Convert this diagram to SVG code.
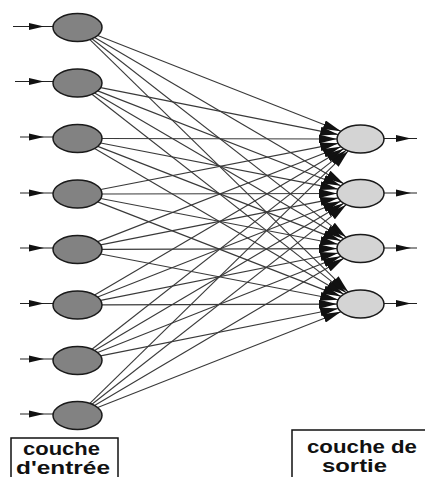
<svg xmlns="http://www.w3.org/2000/svg" width="425" height="477" viewBox="0 0 425 477">
<style>
.c line{stroke:#3a3a3a;stroke-width:1.15;fill:none}
.c .w{marker-end:url(#ah)}
.in ellipse{fill:#828282;stroke:#1a1a1a;stroke-width:1.5}
.out ellipse{fill:#d4d4d4;stroke:#1a1a1a;stroke-width:1.5}
.io line{stroke:#222;stroke-width:1.2}
.io polygon{fill:#111}
.lbl rect{fill:none;stroke:#111;stroke-width:1.5}
.lbl text{font-family:"Liberation Sans",Arial,sans-serif;font-weight:bold;font-size:19px;fill:#111}
</style>
<defs>
<marker id="ah" markerUnits="userSpaceOnUse" markerWidth="18" markerHeight="9" refX="18" refY="4.5" orient="auto">
<path d="M0,0 L18,4.5 L0,9 z" fill="#111"/>
</marker>
</defs>
<rect width="425" height="477" fill="#fff"/>
<g id="connectors" class="c">
<line class="w" x1="97.67" y1="35.45" x2="340.9" y2="131.28"/>
<line class="w" x1="94.6" y1="37.53" x2="343.75" y2="183.68"/>
<line class="w" x1="91.97" y1="38.8" x2="346.25" y2="237.37"/>
<line class="w" x1="89.87" y1="39.59" x2="348.27" y2="292.05"/>
<line class="w" x1="100.65" y1="87.58" x2="338.2" y2="134.59"/>
<line class="w" x1="97.73" y1="90.9" x2="340.85" y2="185.83"/>
<line class="w" x1="94.62" y1="93.01" x2="343.73" y2="238.69"/>
<line class="w" x1="91.97" y1="94.3" x2="346.25" y2="292.87"/>
<line class="w" x1="102" y1="138.5" x2="337" y2="139"/>
<line class="w" x1="100.69" y1="143.01" x2="338.16" y2="189.16"/>
<line class="w" x1="97.76" y1="146.37" x2="340.82" y2="240.85"/>
<line class="w" x1="94.62" y1="148.51" x2="343.73" y2="294.19"/>
<line class="w" x1="100.69" y1="189.49" x2="338.16" y2="143.34"/>
<line class="w" x1="102" y1="194" x2="337" y2="193.5"/>
<line class="w" x1="100.72" y1="198.47" x2="338.14" y2="244.19"/>
<line class="w" x1="97.76" y1="201.87" x2="340.82" y2="296.35"/>
<line class="w" x1="97.73" y1="241.6" x2="340.85" y2="146.67"/>
<line class="w" x1="100.65" y1="244.92" x2="338.2" y2="197.91"/>
<line class="w" x1="102" y1="249.42" x2="337" y2="248.58"/>
<line class="w" x1="100.72" y1="253.97" x2="338.14" y2="299.69"/>
<line class="w" x1="94.6" y1="294.97" x2="343.75" y2="148.82"/>
<line class="w" x1="97.67" y1="297.05" x2="340.9" y2="201.22"/>
<line class="w" x1="100.63" y1="300.38" x2="338.22" y2="252.95"/>
<line class="w" x1="102" y1="304.92" x2="337" y2="304.08"/>
<line class="w" x1="91.95" y1="349.19" x2="346.27" y2="150.14"/>
<line class="w" x1="94.54" y1="350.44" x2="343.81" y2="203.35"/>
<line class="w" x1="97.64" y1="352.53" x2="340.93" y2="256.25"/>
<line class="w" x1="100.63" y1="355.88" x2="338.22" y2="308.45"/>
<line class="w" x1="89.87" y1="403.41" x2="348.27" y2="150.95"/>
<line class="w" x1="91.93" y1="404.18" x2="346.29" y2="204.65"/>
<line class="w" x1="94.54" y1="405.44" x2="343.81" y2="258.35"/>
<line class="w" x1="97.67" y1="407.55" x2="340.9" y2="311.72"/>
</g>
<g id="inputs" class="io">
<line x1="13" y1="26.5" x2="53" y2="26.5"/><polygon points="29,23 44,26.5 29,30"/>
<line x1="15" y1="81.5" x2="53" y2="81.5"/><polygon points="29,78 44,81.5 29,85"/>
<line x1="20" y1="137" x2="53" y2="137"/><polygon points="29,133.5 44,137 29,140.5"/>
<line x1="20" y1="193" x2="53" y2="193"/><polygon points="29,189.5 44,193 29,196.5"/>
<line x1="20" y1="248" x2="53" y2="248"/><polygon points="29,244.5 44,248 29,251.5"/>
<line x1="20" y1="303.5" x2="53" y2="303.5"/><polygon points="29,300 44,303.5 29,307"/>
<line x1="20" y1="359" x2="53" y2="359"/><polygon points="29,355.5 44,359 29,362.5"/>
<line x1="20" y1="414" x2="53" y2="414"/><polygon points="29,410.5 44,414 29,417.5"/>
</g>
<g id="outputs" class="io">
<line x1="384" y1="138.5" x2="417" y2="138.5"/><polygon points="396,135 411,138.5 396,142"/>
<line x1="384" y1="193" x2="417" y2="193"/><polygon points="396,189.5 411,193 396,196.5"/>
<line x1="384" y1="248" x2="417" y2="248"/><polygon points="396,244.5 411,248 396,251.5"/>
<line x1="384" y1="303.5" x2="417" y2="303.5"/><polygon points="396,300 411,303.5 396,307"/>
</g>
<g class="in">
<g id="in1"><ellipse cx="77.5" cy="27.5" rx="24.5" ry="14"/></g>
<g id="in2"><ellipse cx="77.5" cy="83" rx="24.5" ry="14"/></g>
<g id="in3"><ellipse cx="77.5" cy="138.5" rx="24.5" ry="14"/></g>
<g id="in4"><ellipse cx="77.5" cy="194" rx="24.5" ry="14"/></g>
<g id="in5"><ellipse cx="77.5" cy="249.5" rx="24.5" ry="14"/></g>
<g id="in6"><ellipse cx="77.5" cy="305" rx="24.5" ry="14"/></g>
<g id="in7"><ellipse cx="77.5" cy="360.5" rx="24.5" ry="14"/></g>
<g id="in8"><ellipse cx="77.5" cy="415.5" rx="24.5" ry="14"/></g>
</g>
<g class="out">
<g id="out1"><ellipse cx="360.5" cy="139" rx="23.5" ry="14"/></g>
<g id="out2"><ellipse cx="360.5" cy="193.5" rx="23.5" ry="14"/></g>
<g id="out3"><ellipse cx="360.5" cy="248.5" rx="23.5" ry="14"/></g>
<g id="out4"><ellipse cx="360.5" cy="304" rx="23.5" ry="14"/></g>
</g>
<g id="label-input" class="lbl">
<rect x="11" y="438" width="107" height="50"/>
<text x="23" y="455" textLength="77" lengthAdjust="spacingAndGlyphs">couche</text>
<text x="16" y="474" textLength="94" lengthAdjust="spacingAndGlyphs">d'entrée</text>
</g>
<g id="label-output" class="lbl">
<rect x="292" y="430" width="150" height="60"/>
<text x="307" y="453" textLength="110" lengthAdjust="spacingAndGlyphs">couche de</text>
<text x="322" y="472" textLength="65" lengthAdjust="spacingAndGlyphs">sortie</text>
</g>
</svg>
